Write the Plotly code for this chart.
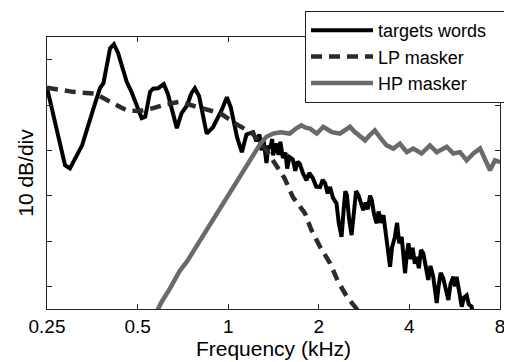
import plotly.graph_objects as go

# ---- data (frequency in kHz, level in dB, 10 dB per division) ----
target_freq = [0.25, 0.265, 0.287, 0.298, 0.327, 0.357, 0.375, 0.385, 0.405, 0.417, 0.43, 0.46,
               0.477, 0.516, 0.53, 0.55, 0.563, 0.585, 0.611, 0.63, 0.675, 0.70, 0.73, 0.755,
               0.775, 0.80, 0.848, 0.89, 0.95, 0.99, 1.02, 1.07, 1.11, 1.15, 1.21, 1.24, 1.27,
               1.29, 1.31, 1.34, 1.36, 1.38, 1.40, 1.41, 1.44, 1.47, 1.49, 1.52, 1.55, 1.57,
               1.60, 1.64, 1.67, 1.70, 1.73, 1.77, 1.82, 1.86, 1.91, 1.96, 2.02, 2.06, 2.10,
               2.14, 2.18, 2.23, 2.29, 2.33, 2.38, 2.42, 2.45, 2.48, 2.52, 2.57, 2.62, 2.66,
               2.71, 2.76, 2.81, 2.86, 2.91, 2.96, 3.00, 3.05, 3.11, 3.16, 3.22, 3.28, 3.33,
               3.39, 3.45, 3.50, 3.58, 3.64, 3.70, 3.77, 3.82, 3.87, 3.92, 3.97, 4.04, 4.10,
               4.17, 4.23, 4.30, 4.37, 4.45, 4.53, 4.62, 4.70, 4.80, 4.87, 4.93, 5.00, 5.08,
               5.18, 5.28, 5.39, 5.48, 5.60, 5.67, 5.74, 5.85, 5.97, 6.07, 6.20, 6.30, 6.44, 6.55]
target_db = [48.8, 41.6, 31.7, 31.0, 36.1, 44.3, 48.7, 49.8, 57.5, 58.4, 56.6, 50.1,
             47.9, 42.1, 42.4, 47.9, 48.6, 48.7, 49.6, 47.5, 39.9, 43.2, 44.9, 47.6,
             48.7, 47.0, 38.7, 40.1, 43.8, 46.7, 44.5, 37.9, 34.6, 38.5, 39.0, 37.0, 38.5,
             35.0, 37.5, 32.2, 36.0, 35.5, 37.5, 33.9, 36.5, 34.0, 36.9, 33.3, 34.5, 31.0,
             33.5, 33.0, 30.5, 32.5, 32.0, 30.0, 28.4, 30.0, 28.9, 27.0, 26.9, 28.5, 27.7,
             25.5, 26.9, 24.5, 23.3, 19.0, 15.9, 22.0, 26.0, 25.1, 20.0, 16.3, 22.0, 26.0,
             25.1, 23.5, 21.8, 23.5, 22.0, 25.0, 24.0, 21.0, 18.9, 21.5, 19.0, 20.7, 17.0,
             14.0, 9.3, 13.5, 15.9, 19.0, 14.5, 15.9, 11.0, 7.9, 12.0, 14.5, 11.0, 13.5,
             10.0, 11.5, 9.0, 13.0, 12.3, 9.0, 6.4, 9.5, 7.1, 4.0, 1.3, 5.0, 8.0,
             6.8, 4.0, 2.0, 5.5, 7.1, 5.0, 7.1, 4.0, 0.5, 2.5, 3.0, 1.0, 0.5, -2.0]

lp_freq = [0.25, 0.305, 0.361, 0.405, 0.46, 0.509, 0.563, 0.624, 0.69, 0.786, 0.94, 1.05,
           1.20, 1.34, 1.54, 1.64, 1.80, 1.89, 2.02, 2.18, 2.32, 2.48, 2.64, 2.75]
lp_db = [48.8, 47.9, 47.5, 45.7, 43.8, 43.7, 44.3, 45.2, 45.7, 44.6, 43.2, 41.0,
         38.8, 35.0, 28.8, 24.7, 21.1, 17.4, 13.7, 10.1, 6.0, 2.7, 0.3, -1.0]

hp_freq = [0.575, 0.60, 0.64, 0.69, 0.73, 0.77, 0.806, 0.848, 0.89, 0.95, 0.99, 1.04, 1.09,
           1.15, 1.21, 1.28, 1.34, 1.41, 1.49, 1.56, 1.60, 1.68, 1.75, 1.81, 1.87, 1.97,
           2.07, 2.14, 2.21, 2.35, 2.45, 2.54, 2.62, 2.71, 2.85, 2.95, 3.07, 3.19, 3.36,
           3.54, 3.72, 3.92, 4.12, 4.39, 4.68, 4.93, 5.32, 5.60, 5.89, 6.20, 6.53, 6.87,
           7.13, 7.41, 7.70, 8.0]
hp_db = [-1.0, 1.5, 4.5, 8.4, 10.5, 13.0, 15.0, 17.2, 19.4, 22.6, 24.5, 26.8, 29.0,
         31.8, 34.0, 36.5, 38.0, 38.7, 39.0, 38.8, 38.7, 39.8, 40.5, 40.0, 39.8, 38.7,
         40.2, 39.6, 39.0, 38.7, 39.5, 40.2, 39.2, 38.3, 37.2, 38.3, 39.4, 37.9, 36.1,
         35.4, 36.5, 34.6, 35.4, 34.3, 36.1, 34.6, 35.8, 34.3, 34.6, 32.8, 34.3, 35.4,
         32.8, 30.6, 32.8, 32.4]

x_tick_vals = [0.25, 0.5, 1, 2, 4, 8]
x_tick_text = ["0.25", "0.5", "1", "2", "4", "8"]
y_tick_vals = [5, 15, 25, 35, 45, 55]

FONT = "Liberation Sans, Arial, Helvetica, sans-serif"

# the page body has an 8px default margin, so the figure is 8px smaller
fig = go.Figure()
fig.add_trace(go.Scatter(x=target_freq, y=target_db, mode="lines",
                         name="targets words" + "\u00a0" * 12,
                         line=dict(color="#000000", width=4)))
fig.add_trace(go.Scatter(x=lp_freq, y=lp_db, mode="lines", name="LP masker",
                         line=dict(color="#2b2b2b", width=4.5, dash="11px,7px")))
fig.add_trace(go.Scatter(x=hp_freq, y=hp_db, mode="lines", name="HP masker",
                         line=dict(color="#6a6a6a", width=4.5)))

fig.update_layout(
    width=504, height=354,
    margin=dict(l=39, r=12, t=29, b=53, autoexpand=False),
    paper_bgcolor="white", plot_bgcolor="white",
    font=dict(family=FONT, color="black", size=18),
    showlegend=True,
    legend=dict(x=(305 - 47) / 453, y=(309 - 11) / 272, xanchor="left", yanchor="top",
                bgcolor="white", bordercolor="#222222", borderwidth=1,
                font=dict(size=18, family=FONT), itemwidth=62),
    xaxis=dict(type="log", range=[-0.60206, 0.90309],
               tickvals=x_tick_vals, ticktext=x_tick_text,
               ticks="inside", ticklen=5, tickcolor="#222222",
               showline=True, linecolor="#222222", linewidth=1, mirror="ticks",
               showgrid=False, zeroline=False,
               tickfont=dict(size=19, family=FONT),
               title=dict(text="Frequency (kHz)", font=dict(size=21, family=FONT), standoff=2)),
    yaxis=dict(range=[0, 60], tickvals=y_tick_vals, showticklabels=False,
               ticks="inside", ticklen=5, tickcolor="#222222",
               showline=True, linecolor="#222222", linewidth=1, mirror="ticks",
               showgrid=False, zeroline=False,
               title=dict(text="10 dB/div", font=dict(size=21, family=FONT), standoff=6)),
)

fig.write_html("out.html")
